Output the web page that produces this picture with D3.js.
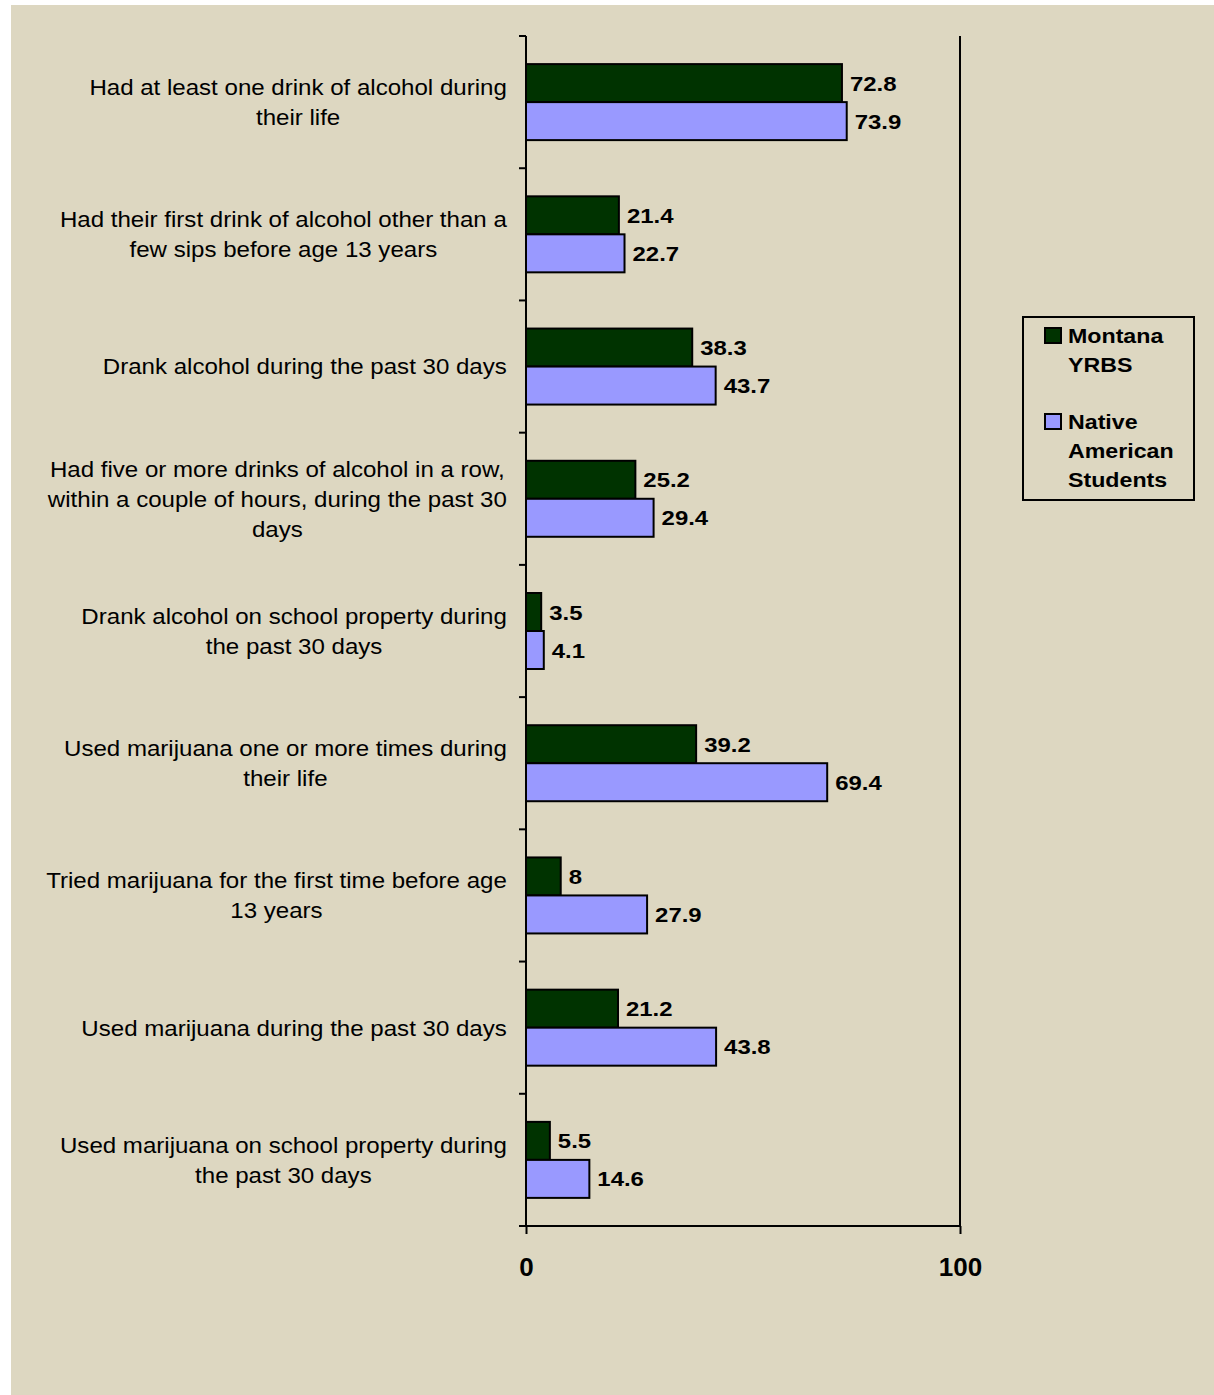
<!DOCTYPE html>
<html><head><meta charset="utf-8">
<script src="https://cdn.jsdelivr.net/npm/d3@7"></script>
<style>
html,body{margin:0;padding:0;background:#fff;}
svg{display:block;}
text{font-family:"Liberation Sans",Arial,sans-serif;}
</style></head>
<body>
<script>
const categories = [
  ["Had at least one drink of alcohol during", "their life"],
  ["Had their first drink of alcohol other than a", "few sips before age 13 years"],
  ["Drank alcohol during the past 30 days"],
  ["Had five or more drinks of alcohol in a row,", "within a couple of hours, during the past 30", "days"],
  ["Drank alcohol on school property during", "the past 30 days"],
  ["Used marijuana one or more times during", "their life"],
  ["Tried marijuana for the first time before age", "13 years"],
  ["Used marijuana during the past 30 days"],
  ["Used marijuana on school property during", "the past 30 days"]
];
const seriesNames = [["Montana", "YRBS"], ["Native", "American", "Students"]];
const montana = [72.8, 21.4, 38.3, 25.2, 3.5, 39.2, 8, 21.2, 5.5];
const native = [73.9, 22.7, 43.7, 29.4, 4.1, 69.4, 27.9, 43.8, 14.6];
const xTicks = [0, 100];
const colors = ["#003300", "#9999ff"];

const W = 1214, H = 1395;
const svg = d3.select("body").append("svg").attr("width", W).attr("height", H);
svg.append("rect").attr("x", 11).attr("y", 5).attr("width", W - 11).attr("height", H - 5).attr("fill", "#ddd7c1");

const x0 = 526, x1 = 960, yTop = 36, yBot = 1226;
const x = d3.scaleLinear().domain([0, 100]).range([x0, x1]);
const y = d3.scaleBand().domain(d3.range(categories.length)).range([yTop, yBot]);
const barH = 38;

// right boundary line
svg.append("line").attr("x1", x1).attr("x2", x1).attr("y1", yTop).attr("y2", yBot)
  .attr("stroke", "#000").attr("stroke-width", 2);

// bars
const series = [montana, native];
series.forEach((vals, si) => {
  svg.append("g").selectAll("rect").data(vals).join("rect")
    .attr("x", x(0))
    .attr("y", (d, i) => y(i) + y.bandwidth() / 2 - barH + si * barH)
    .attr("width", d => x(d) - x(0))
    .attr("height", barH)
    .attr("fill", colors[si])
    .attr("stroke", "#000").attr("stroke-width", 2);
  svg.append("g").selectAll("text").data(vals).join("text")
    .attr("transform", (d, i) => `translate(${x(d) + 8},${y(i) + y.bandwidth() / 2 - barH / 2 + si * barH}) scale(1.14,1)`)
    .attr("dy", "0.36em")
    .attr("font-size", 21).attr("font-weight", "bold").attr("fill", "#000")
    .text(d => d);
});

// left axis line with ticks at band boundaries
svg.append("line").attr("x1", x0).attr("x2", x0).attr("y1", yTop).attr("y2", yBot)
  .attr("stroke", "#000").attr("stroke-width", 2);
const bounds = d3.range(categories.length + 1).map(i => i < categories.length ? y(i) : yBot);
svg.append("g").selectAll("line").data(bounds).join("line")
  .attr("x1", x0 - 7).attr("x2", x0).attr("y1", d => d).attr("y2", d => d)
  .attr("stroke", "#000").attr("stroke-width", 2);

// bottom axis
const xAxis = d3.axisBottom(x).tickValues(xTicks).tickSize(8).tickSizeOuter(0);
const gx = svg.append("g").attr("transform", `translate(0,${yBot})`).call(xAxis);
gx.select(".domain").attr("stroke", "#000").attr("stroke-width", 2).attr("d", `M${x0 - 7},0H${x1}`);
gx.selectAll(".tick line").attr("stroke", "#000").attr("stroke-width", 2);
gx.selectAll(".tick text").attr("font-size", 26).attr("font-weight", "bold").attr("fill", "#000")
  .attr("font-family", "Liberation Sans, Arial, sans-serif")
  .attr("y", 50).attr("dy", 0);

// category labels
const lineH = 30, sxLab = 1.095;
categories.forEach((lines, i) => {
  const cy = y(i) + y.bandwidth() / 2;
  const g = svg.append("g");
  const texts = g.selectAll("text").data(lines).join("text")
    .attr("font-size", 22).attr("fill", "#000")
    .attr("text-anchor", "middle")
    .attr("dy", "0.36em")
    .text(d => d);
  let maxW = 0;
  texts.each(function () { maxW = Math.max(maxW, this.getComputedTextLength()); });
  const cx = 507 - maxW * sxLab / 2;
  texts.attr("transform", (d, k) => `translate(${cx},${cy + (k - (lines.length - 1) / 2) * lineH}) scale(${sxLab},1)`);
});

// legend
const lg = svg.append("g");
lg.append("rect").attr("x", 1023).attr("y", 317).attr("width", 171).attr("height", 183)
  .attr("fill", "none").attr("stroke", "#000").attr("stroke-width", 2);
const legTop = [343, 429];
seriesNames.forEach((names, si) => {
  lg.append("rect").attr("x", 1045).attr("y", legTop[si] - 15).attr("width", 16).attr("height", 15)
    .attr("fill", colors[si]).attr("stroke", "#000").attr("stroke-width", 2);
  names.forEach((n, k) => {
    lg.append("text").attr("transform", `translate(1068,${legTop[si] + k * 29}) scale(1.16,1)`)
      .attr("font-size", 20).attr("font-weight", "bold").attr("fill", "#000").text(n);
  });
});
</script>
</body></html>
